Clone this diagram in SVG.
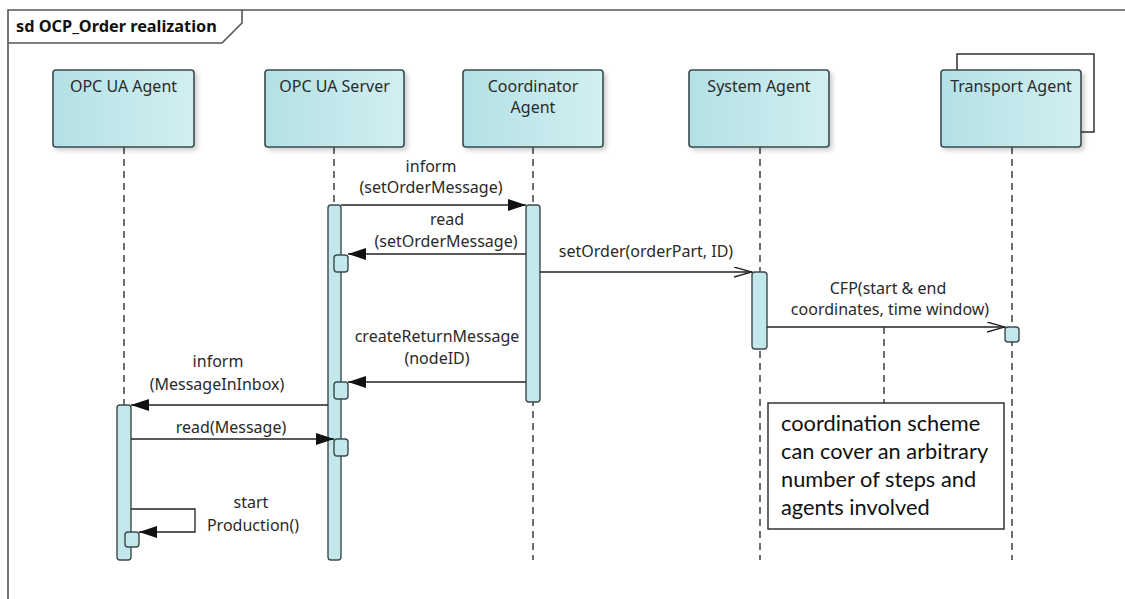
<svg xmlns="http://www.w3.org/2000/svg" width="1125" height="599" viewBox="0 0 1125 599">
<defs>
<linearGradient id="boxg" x1="0" y1="0" x2="1" y2="0">
<stop offset="0" stop-color="#b3e1e5"/>
<stop offset="1" stop-color="#d2eff1"/>
</linearGradient>
<filter id="sh" x="-10%" y="-10%" width="130%" height="130%">
<feDropShadow dx="3" dy="3" stdDeviation="2" flood-color="#000" flood-opacity="0.18"/>
</filter>
<marker id="fa" markerUnits="userSpaceOnUse" markerWidth="20" markerHeight="14" refX="18" refY="6" orient="auto">
<path d="M0,0 L18,6 L0,12 z" fill="#111"/>
</marker>
<marker id="oa" markerUnits="userSpaceOnUse" markerWidth="20" markerHeight="12" refX="18" refY="5" orient="auto">
<path d="M0,0 L18,5 L0,10" fill="none" stroke="#222" stroke-width="1.3"/>
</marker>
</defs>
<style>
.frame{fill:none;stroke:#555;stroke-width:1.6}
.box{fill:url(#boxg);stroke:#3c4a4e;stroke-width:1.6;filter:url(#sh)}
.back{fill:#fff;stroke:#222;stroke-width:1.4}
.life{stroke:#333;stroke-width:1.4;stroke-dasharray:7,5;fill:none}
.act{fill:#c2e8ec;stroke:#3c4a4e;stroke-width:1.4}
.msg{fill:none;stroke:#222;stroke-width:1.3}
.t{font-family:"Noto Sans","Open Sans",sans-serif;font-size:16px;fill:#2a2a2a;text-anchor:middle}
.title{font-family:"Noto Sans","Open Sans",sans-serif;font-size:16.3px;font-weight:bold;fill:#111}
.note{fill:#fff;stroke:#333;stroke-width:1.5}
.nt{font-family:"Lato","Open Sans",sans-serif;font-size:21.8px;fill:#111}
</style>
<rect width="1125" height="599" fill="#fff"/>
<g id="frame">
<path class="frame" d="M8,599 L8,10 L1125,10"/>
<path class="frame" d="M8,43 L222,43 L242,23 L242,10"/>
<text class="title" x="16" y="32">sd OCP_Order realization</text>
</g>
<g id="lifelines">
<line class="life" x1="124" y1="147" x2="124" y2="560"/>
<line class="life" x1="334" y1="147" x2="334" y2="560"/>
<line class="life" x1="533" y1="147" x2="533" y2="560"/>
<line class="life" x1="760" y1="147" x2="760" y2="560"/>
<line class="life" x1="1012" y1="147" x2="1012" y2="560"/>
</g>
<g id="opcua-agent">
<rect class="box" x="53" y="70" width="141" height="77" rx="3"/>
<text class="t" x="123.5" y="92">OPC UA Agent</text>
</g>
<g id="opcua-server">
<rect class="box" x="265" y="70" width="139" height="77" rx="3"/>
<text class="t" x="334.5" y="92">OPC UA Server</text>
</g>
<g id="coordinator-agent">
<rect class="box" x="463" y="70" width="140" height="77" rx="3"/>
<text class="t" x="533" y="92">Coordinator</text>
<text class="t" x="533" y="113">Agent</text>
</g>
<g id="system-agent">
<rect class="box" x="689" y="70" width="140" height="77" rx="3"/>
<text class="t" x="759" y="92">System Agent</text>
</g>
<g id="transport-agent">
<rect class="back" x="957" y="54" width="137" height="78"/>
<rect class="box" x="941" y="70" width="140" height="77" rx="3"/>
<text class="t" x="1011" y="92">Transport Agent</text>
</g>
<g id="activations">
<rect class="act" x="328" y="205" width="13" height="355" rx="3"/>
<rect class="act" x="526" y="205" width="14" height="197" rx="3"/>
<rect class="act" x="752" y="272" width="15" height="77" rx="3"/>
<rect class="act" x="117" y="405" width="14" height="155" rx="3"/>
<rect class="act" x="334" y="255" width="14" height="17" rx="3"/>
<rect class="act" x="334" y="382" width="14" height="17" rx="3"/>
<rect class="act" x="334" y="439" width="14" height="17" rx="3"/>
<rect class="act" x="1005" y="327" width="14" height="15" rx="3"/>
<rect class="act" x="125" y="532" width="14" height="15" rx="3"/>
</g>
<g id="connectors">
<path class="msg" d="M341,205 L526,205" marker-end="url(#fa)"/>
<path class="msg" d="M526,254 L348,254" marker-end="url(#fa)"/>
<path class="msg" d="M540,272 L752,272" marker-end="url(#oa)"/>
<path class="msg" d="M767,327 L1005,327" marker-end="url(#oa)"/>
<path class="msg" d="M526,382 L348,382" marker-end="url(#fa)"/>
<path class="msg" d="M328,405 L131,405" marker-end="url(#fa)"/>
<path class="msg" d="M131,439 L334,439" marker-end="url(#fa)"/>
<path class="msg" d="M131,509 L195,509 L195,532 L139,532" marker-end="url(#fa)"/>
<line class="life" x1="884" y1="327" x2="884" y2="403"/>
<text class="t" x="431" y="172">inform</text>
<text class="t" x="431" y="193">(setOrderMessage)</text>
<text class="t" x="447" y="225">read</text>
<text class="t" x="446" y="247">(setOrderMessage)</text>
<text class="t" x="646" y="257">setOrder(orderPart, ID)</text>
<text class="t" x="888" y="294">CFP(start &amp; end</text>
<text class="t" x="890" y="315">coordinates, time window)</text>
<text class="t" x="437" y="342">createReturnMessage</text>
<text class="t" x="437" y="364">(nodeID)</text>
<text class="t" x="218" y="367">inform</text>
<text class="t" x="217" y="390">(MessageInInbox)</text>
<text class="t" x="231" y="433">read(Message)</text>
<text class="t" x="251" y="508">start</text>
<text class="t" x="253" y="531">Production()</text>
</g>
<g id="note">
<rect class="note" x="768" y="403" width="236" height="126"/>
<text class="nt" x="781" y="431">coordination scheme</text>
<text class="nt" x="781" y="459">can cover an arbitrary</text>
<text class="nt" x="781" y="487">number of steps and</text>
<text class="nt" x="781" y="515">agents involved</text>
</g>
</svg>
